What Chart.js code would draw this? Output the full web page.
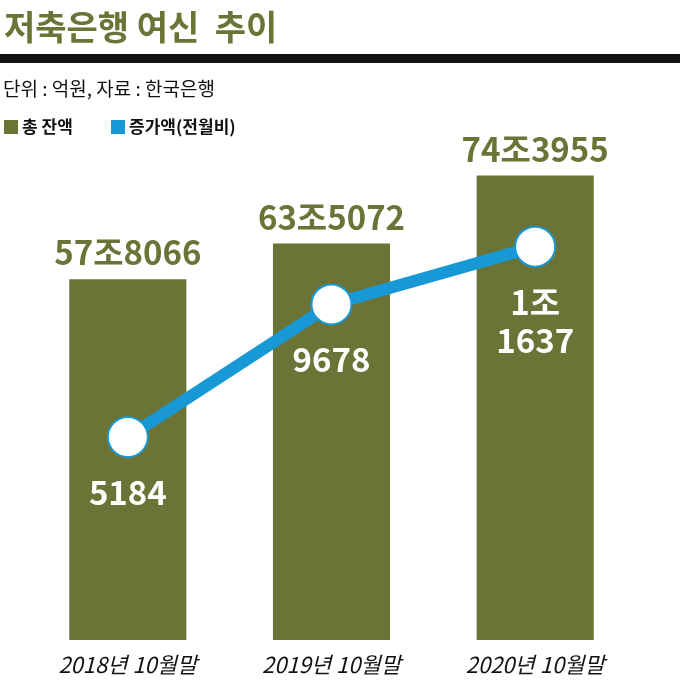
<!DOCTYPE html>
<html><head><meta charset="utf-8">
<script src="https://cdn.jsdelivr.net/npm/chart.js@4"></script>
<style>html,body{margin:0;padding:0;background:#fff}#w{width:680px;height:682px;position:relative}</style>
</head><body><div id="w"><canvas id="c" width="680" height="682"></canvas></div>
<script>
const categories=["2018년 10월말","2019년 10월말","2020년 10월말"];
const totalValues=[57.8066,63.5072,74.3955];
const totalLabels=["57조8066","63조5072","74조3955"];
const increaseValues=[5184,9678,11637];
const increaseLabels=[["5184"],["9678"],["1조","1637"]];
const OLIVE="#6b7436",BLUE="#1898d5";
const F="'Noto Sans CJK KR','Noto Sans',sans-serif";
const deco={id:'deco',afterDraw(ch){
 const c=ch.ctx;c.save();
 c.fillStyle=OLIVE;c.font="bold 34px "+F;c.textBaseline="alphabetic";c.textAlign="left";
 c.fillText("저축은행 여신  추이",4,40);
 c.fillStyle="#111";c.fillRect(0,54,680,9);
 c.font="19px "+F;c.fillText("단위 : 억원, 자료 : 한국은행",3,96);
 c.fillStyle=OLIVE;c.fillRect(4,120,14,14);
 c.fillStyle="#111";c.font="bold 17px "+F;c.fillText("총 잔액",22,133);
 c.fillStyle=BLUE;c.fillRect(111,120,14,14);
 c.fillStyle="#111";c.fillText("증가액(전월비)",129,133);
 const bm=ch.getDatasetMeta(0),lm=ch.getDatasetMeta(1);
 c.textAlign="center";
 bm.data.forEach((b,i)=>{c.fillStyle=OLIVE;c.font="bold 33px "+F;c.fillText(totalLabels[i],b.x,b.y-14);
  c.fillStyle="#111";c.font="italic 22px "+F;c.fillText(categories[i],b.x,673);});
 lm.data.forEach((p,i)=>{c.fillStyle="#fff";c.font="bold 33px "+F;
  increaseLabels[i].forEach((t,k)=>c.fillText(t,p.x,p.y+68+k*38));});
 c.restore();}};
new Chart(document.getElementById('c'),{
 data:{labels:categories,datasets:[
  {type:'bar',data:totalValues,backgroundColor:OLIVE,yAxisID:'y',categoryPercentage:1,barPercentage:0.575,order:2},
  {type:'line',data:increaseValues,borderColor:BLUE,borderWidth:12,pointRadius:20,pointBackgroundColor:'#fff',pointBorderColor:BLUE,pointBorderWidth:2,yAxisID:'y2',order:1}]},
 options:{responsive:false,animation:false,
  layout:{padding:{top:150,bottom:42,left:26,right:43}},
  plugins:{legend:{display:false},tooltip:{enabled:false}},
  scales:{x:{display:false},y:{display:false,min:0,max:78.5},y2:{display:false,min:-1697,max:14913}}},
 plugins:[deco]});
</script></body></html>
